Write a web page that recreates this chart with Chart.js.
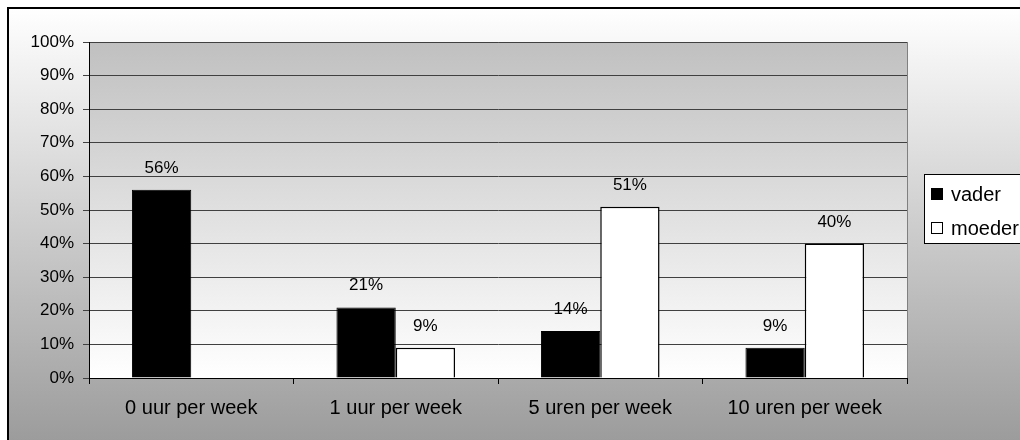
<!DOCTYPE html>
<html>
<head>
<meta charset="utf-8">
<script src="https://cdn.jsdelivr.net/npm/chart.js@4"></script>
<style>
  html, body { margin: 0; padding: 0; background: #fff; }
  #wrap { width: 1020px; height: 440px; }
</style>
</head>
<body>
<div id="wrap"><canvas id="myChart" width="1020" height="440"></canvas></div>
<script>
// data
const categories = ['0 uur per week', '1 uur per week', '5 uren per week', '10 uren per week'];
const vader = [56, 21, 14, 9];
const moeder = [0, 9, 51, 40];
const yTicks = [0, 10, 20, 30, 40, 50, 60, 70, 80, 90, 100];

const FONT = 'Arial, "Liberation Sans", sans-serif';

// achtergronden, rand, labels en legenda
const excelLook = {
    id: 'excelLook',
    beforeDraw(chart) {
        let c = chart.ctx
        let a = chart.chartArea
        c.save()
        let g = c.createLinearGradient(0, 8, 0, 440)
        g.addColorStop(0, '#ffffff')
        g.addColorStop(1, '#9c9c9c')
        c.fillStyle = g
        c.fillRect(8, 8, 1020, 440)
        c.strokeStyle = '#000'
        c.lineWidth = 2
        c.strokeRect(8, 8, 1030, 450)

        let p = c.createLinearGradient(0, a.top, 0, a.bottom)
        p.addColorStop(0, '#c0c0c0')
        p.addColorStop(1, '#ffffff')
        c.fillStyle = p
        c.fillRect(a.left, a.top, a.right - a.left, a.bottom - a.top)
        c.strokeStyle = '#808080'
        c.lineWidth = 1
        c.strokeRect(a.left + 0.5, a.top + 0.5, a.right - a.left, a.bottom - a.top)
        c.restore()
    },
    afterDatasetsDraw(chart) {
        let c = chart.ctx
        c.save()
        c.font = '17px ' + FONT
        c.fillStyle = '#000'
        c.textAlign = 'center'
        c.textBaseline = 'alphabetic'
        chart.data.datasets.forEach((ds, i) => {
            let meta = chart.getDatasetMeta(i)
            meta.data.forEach((bar, j) => {
                if (ds.data[j] > 0) {
                    c.fillText(ds.data[j] + '%', bar.x, bar.y - 17)
                }
            })
        })
        c.restore()
    },
    afterDraw(chart) {
        let c = chart.ctx
        c.save()
        c.fillStyle = '#fff'
        c.fillRect(924, 174, 120, 70)
        c.strokeStyle = '#000'
        c.lineWidth = 1
        c.strokeRect(924.5, 174.5, 120, 69)
        c.font = '20px ' + FONT
        c.textBaseline = 'alphabetic'
        chart.data.datasets.forEach((ds, i) => {
            let y = 194 + i * 34
            c.fillStyle = ds.backgroundColor
            c.fillRect(931, y - 6, 12, 12)
            c.strokeStyle = '#000'
            c.strokeRect(931.5, y - 5.5, 11, 11)
            c.fillStyle = '#000'
            c.fillText(ds.label, 951, y + 7)
        })
        c.restore()
    }
}

new Chart(document.getElementById('myChart'), {
    type: 'bar',
    data: {
        labels: categories,
        datasets: [
            {
                label: 'vader',
                data: vader,
                backgroundColor: '#000000',
                borderColor: '#000000',
                borderWidth: 1,
                categoryPercentage: 0.58,
                barPercentage: 1
            },
            {
                label: 'moeder',
                data: moeder,
                backgroundColor: '#ffffff',
                borderColor: '#000000',
                borderWidth: 1.5,
                categoryPercentage: 0.58,
                barPercentage: 1
            }
        ]
    },
    options: {
        responsive: false,
        animation: false,
        layout: { padding: { left: 0, top: 42, right: 113, bottom: 0 } },
        plugins: {
            legend: { display: false },
            tooltip: { enabled: false }
        },
        scales: {
            x: {
                afterFit(axis) { axis.height = 62 },
                grid: {
                    display: true,
                    drawOnChartArea: false,
                    offset: true,
                    color: '#000',
                    tickLength: 6
                },
                border: { color: '#000', width: 1 },
                ticks: { color: '#000', font: { family: FONT, size: 20 }, padding: 12 }
            },
            y: {
                min: 0,
                max: 100,
                afterBuildTicks(axis) {
                    axis.ticks = yTicks.map(v => ({ value: v }))
                },
                afterFit(axis) { axis.width = 89 },
                grid: { color: '#404040', tickLength: 6 },
                border: { color: '#000', width: 1 },
                ticks: {
                    color: '#000',
                    font: { family: FONT, size: 17 },
                    padding: 9,
                    callback: v => v + '%'
                }
            }
        }
    },
    plugins: [excelLook]
});
</script>
</body>
</html>
